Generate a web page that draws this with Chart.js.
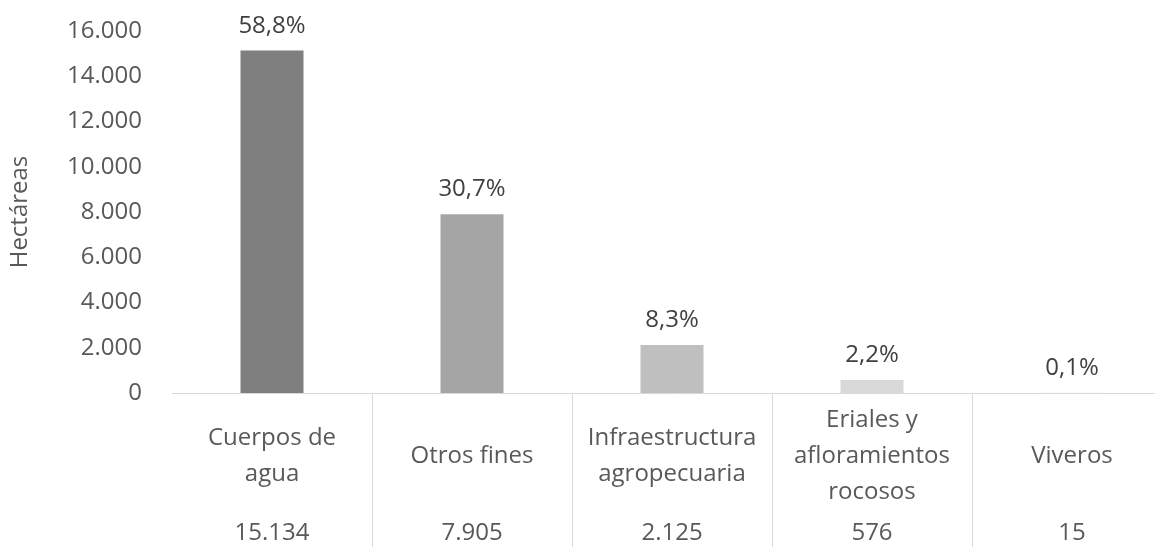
<!DOCTYPE html>
<html><head><meta charset="utf-8">
<script src="https://cdn.jsdelivr.net/npm/chart.js@4.4.1/dist/chart.umd.min.js"></script>
<style>
html,body{margin:0;padding:0;overflow:hidden;background:#fff;width:1155px;height:547px}
#wrap{position:absolute;left:0;top:0;width:1172px;height:547px}
</style>
</head><body>
<div id="wrap"><canvas id="c" width="1172" height="547" style="width:1172px;height:547px"></canvas></div>
<script>
const categories = [['Cuerpos de','agua'],['Otros fines'],['Infraestructura','agropecuaria'],['Eriales y','afloramientos','rocosos'],['Viveros']];
const hectares = [15134, 7905, 2125, 576, 15];
const valueLabels = ['15.134','7.905','2.125','576','15'];
const percentLabels = ['58,8%','30,7%','8,3%','2,2%','0,1%'];
const barColors = ['#7f7f7f','#a5a5a5','#bfbfbf','#d9d9d9','#ededed'];
const yMin = 0, yMax = 16000, yStep = 2000;
const yTitle = 'Hectáreas';

const FONT = '"Open Sans", "Noto Sans", sans-serif';
function fmt(v){ return String(v).replace(/\B(?=(\d{3})+(?!\d))/g, '.'); }

const labelPlugin = {
  id: 'labels',
  afterDatasetsDraw(chart) {
    const ctx = chart.ctx;
    const meta = chart.getDatasetMeta(0);
    const xs = chart.scales.x;
    ctx.save();
    ctx.font = '24px ' + FONT;
    ctx.textAlign = 'center';
    ctx.textBaseline = 'alphabetic';
    meta.data.forEach((bar, i) => {
      ctx.fillStyle = '#404040';
      ctx.fillText(percentLabels[i], bar.x, bar.y - 18);
      const x = xs.getPixelForValue(i);
      ctx.fillStyle = '#595959';
      const lines = categories[i];
      lines.forEach((ln, k) => ctx.fillText(ln, x, xs.top + 70 + (k - (lines.length - 1) / 2) * 36));
      ctx.fillText(valueLabels[i], x, xs.top + 147);
    });
    ctx.restore();
  }
};

function draw(){
  new Chart(document.getElementById('c'), {
    type: 'bar',
    data: {
      labels: categories.map(c => c.join(' ')),
      datasets: [{
        data: hectares,
        backgroundColor: barColors,
        borderWidth: 0,
        categoryPercentage: 1,
        barPercentage: 0.315
      }]
    },
    options: {
      responsive: false,
      animation: false,
      devicePixelRatio: 1,
      layout: { padding: { top: 31, right: 0, bottom: 0, left: 0 } },
      plugins: { legend: { display: false }, tooltip: { enabled: false } },
      scales: {
        x: {
          offset: true,
          grid: {
            offset: true,
            drawOnChartArea: false,
            drawTicks: true,
            tickLength: 154,
            lineWidth: 1,
            color: c => c.index === 0 ? 'rgba(0,0,0,0)' : '#d9d9d9'
          },
          border: { display: true, color: '#d9d9d9', width: 1 },
          ticks: { display: false },
          afterFit: s => { s.height = 154; s.paddingLeft = 0; s.paddingRight = 0; }
        },
        y: {
          min: yMin, max: yMax,
          grid: { display: false, drawTicks: false },
          border: { display: false },
          ticks: {
            stepSize: yStep,
            padding: 30,
            color: '#595959',
            font: { family: FONT, size: 24 },
            callback: v => fmt(v)
          },
          title: {
            display: true,
            text: yTitle,
            color: '#595959',
            font: { family: FONT, size: 24 },
            padding: { top: 6, bottom: 0 }
          },
          afterFit: s => { s.width = 172; s.paddingTop = 0; s.paddingBottom = 0; }
        }
      }
    },
    plugins: [labelPlugin]
  });
}
if (document.fonts && document.fonts.load) {
  document.fonts.load('24px "Open Sans"').then(draw, draw);
} else { draw(); }
</script>
</body></html>
